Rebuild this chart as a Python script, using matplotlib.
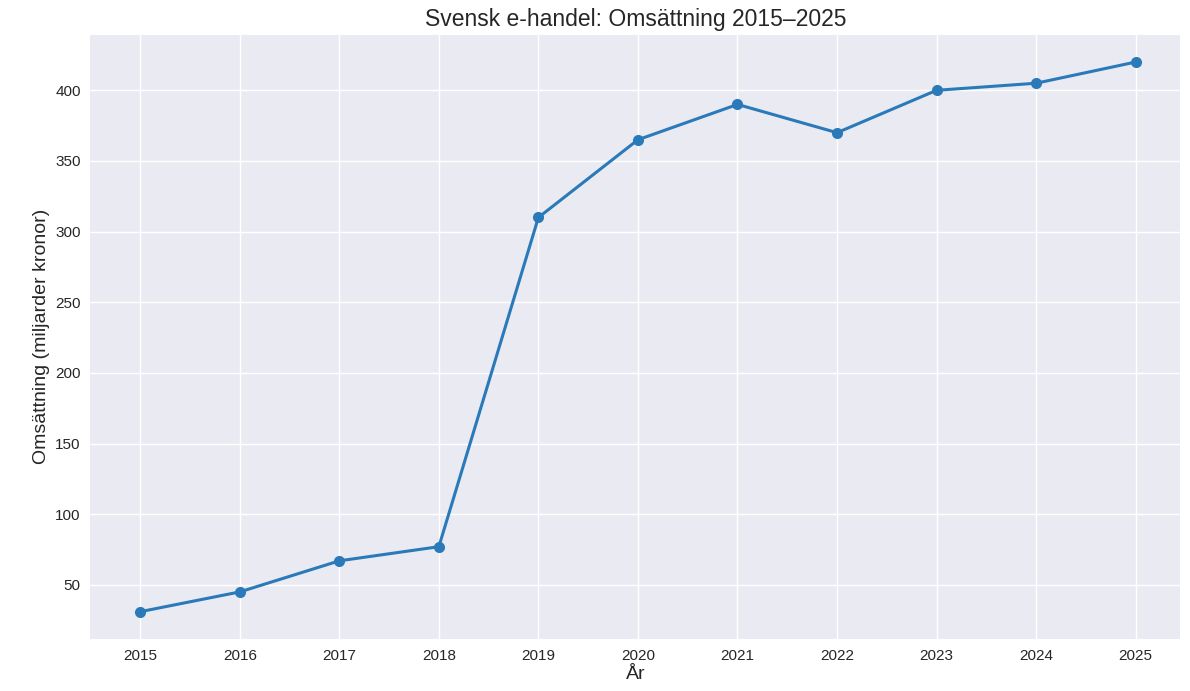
import matplotlib
matplotlib.use("Agg")
import matplotlib.pyplot as plt

plt.style.use("seaborn-v0_8")

years = [2015, 2016, 2017, 2018, 2019, 2020, 2021, 2022, 2023, 2024, 2025]
omsattning = [31, 45, 67, 77, 310, 365, 390, 370, 400, 405, 420]

fig, ax = plt.subplots(figsize=(11.9, 6.91), dpi=100)
ax.plot(years, omsattning, marker="o", color="#2a7ab9", linewidth=2.2, markersize=8)
ax.set_xticks(years)
ax.set_xlim(2014.5, 2025.45)
ax.set_title("Svensk e-handel: Omsättning 2015–2025", fontsize=16.5)
ax.set_xlabel("År", fontsize=14, labelpad=2)
ax.set_ylabel("Omsättning (miljarder kronor)", fontsize=14)
ax.tick_params(labelsize=11)

plt.subplots_adjust(left=0.076, right=0.992, top=0.95, bottom=0.075)
fig.savefig("out.png", dpi=100)
